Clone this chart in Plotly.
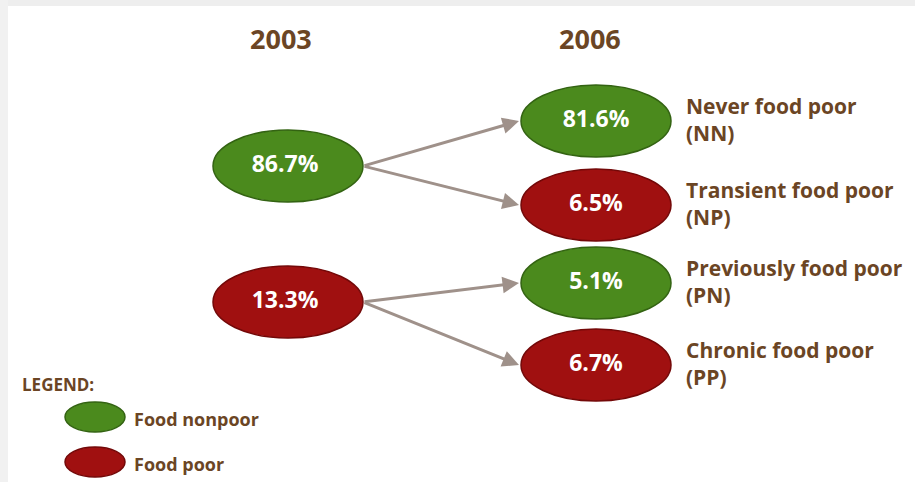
import plotly.graph_objects as go

# ---- data ----
years = ["2003", "2006"]
share_2003 = [86.7, 13.3]
status_2003 = ["nonpoor", "poor"]
share_2006 = [81.6, 6.5, 5.1, 6.7]
status_2006 = ["nonpoor", "poor", "nonpoor", "poor"]
groups_2006 = ["Never food poor", "Transient food poor", "Previously food poor", "Chronic food poor"]
codes_2006 = ["NN", "NP", "PN", "PP"]
origin_2006 = [0, 0, 1, 1]  # index of 2003 node each 2006 node comes from
legend_labels = ["Food nonpoor", "Food poor"]
legend_status = ["nonpoor", "poor"]

# ---- layout / style (pixel coordinates) ----
W, H = 915, 482
FONT = "Open Sans"
BROWN = "#6b4524"
FILL = {"nonpoor": "#4b8a1d", "poor": "#a01010"}
EDGE = {"nonpoor": "#336312", "poor": "#730808"}
ARROW = "#9f918a"

x2003, x2006 = 288, 596
y2003 = [166, 302]
y2006 = [121, 205, 283, 365]
ew, eh = 150, 72

fig = go.Figure()
shapes = []
# faint frame shadow
shapes.append(dict(type="rect", xref="x", yref="y", x0=0, x1=W, y0=0, y1=6,
                   fillcolor="#eeeeee", line=dict(width=0), layer="below"))
shapes.append(dict(type="rect", xref="x", yref="y", x0=0, x1=8, y0=0, y1=H,
                   fillcolor="#f1f1f1", line=dict(width=0), layer="below"))

def ellipse(cx, cy, w, h, st):
    return dict(type="circle", xref="x", yref="y", layer="below",
                x0=cx - w / 2, x1=cx + w / 2, y0=cy - h / 2, y1=cy + h / 2,
                fillcolor=FILL[st], line=dict(color=EDGE[st], width=1.5))

for v, st, y in zip(share_2003, status_2003, y2003):
    shapes.append(ellipse(x2003, y, ew, eh, st))
for v, st, y in zip(share_2006, status_2006, y2006):
    shapes.append(ellipse(x2006, y, ew, eh, st))
leg_y = [417, 462]
for st, y in zip(legend_status, leg_y):
    shapes.append(ellipse(95, y, 60, 30, st))

annotations = []
# arrows
for o, y in zip(origin_2006, y2006):
    annotations.append(dict(x=x2006 - ew / 2 - 2, y=y, ax=x2003 + ew / 2, ay=y2003[o],
                            xref="x", yref="y", axref="x", ayref="y", text="",
                            showarrow=True, arrowhead=2, arrowsize=1.1, arrowwidth=3,
                            arrowcolor=ARROW, standoff=0, startstandoff=0))
# year headers
for yr, x in zip(years, [x2003 - 7, x2006 - 6]):
    annotations.append(dict(x=x, y=38, xref="x", yref="y", text="<b>%s</b>" % yr,
                            showarrow=False, font=dict(family=FONT, size=27, color=BROWN)))
# right-side category labels
for g, c, y in zip(groups_2006, codes_2006, y2006):
    annotations.append(dict(x=684, y=y - 2, xref="x", yref="y", xanchor="left", yanchor="middle",
                            text="<b>%s<br>(%s)</b>" % (g, c), align="left", showarrow=False,
                            font=dict(family=FONT, size=21, color=BROWN)))
# legend
annotations.append(dict(x=20, y=384, xref="x", yref="y", xanchor="left", text="<b>LEGEND:</b>",
                        showarrow=False, font=dict(family=FONT, size=17, color=BROWN)))
for lab, y in zip(legend_labels, leg_y):
    annotations.append(dict(x=132, y=y + 2, xref="x", yref="y", xanchor="left", text="<b>%s</b>" % lab,
                            showarrow=False, font=dict(family=FONT, size=18, color=BROWN)))

# percentage labels as text traces
fig.add_trace(go.Scatter(x=[x2003 - 3] * len(share_2003), y=y2003, mode="text",
                         text=["<b>%.1f%%</b>" % v for v in share_2003],
                         textfont=dict(family=FONT, size=23, color="white"),
                         hoverinfo="skip", showlegend=False))
fig.add_trace(go.Scatter(x=[x2006] * len(share_2006), y=y2006, mode="text",
                         text=["<b>%.1f%%</b>" % v for v in share_2006],
                         textfont=dict(family=FONT, size=23, color="white"),
                         hoverinfo="skip", showlegend=False))

fig.update_layout(width=W, height=H, margin=dict(l=0, r=0, t=0, b=0),
                  paper_bgcolor="white", plot_bgcolor="white",
                  shapes=shapes, annotations=annotations, showlegend=False,
                  xaxis=dict(range=[0, W], visible=False, fixedrange=True),
                  yaxis=dict(range=[H, 0], visible=False, fixedrange=True))
fig.write_html("out.html", post_script="document.body.style.margin='0';",
               config={"displayModeBar": False})
